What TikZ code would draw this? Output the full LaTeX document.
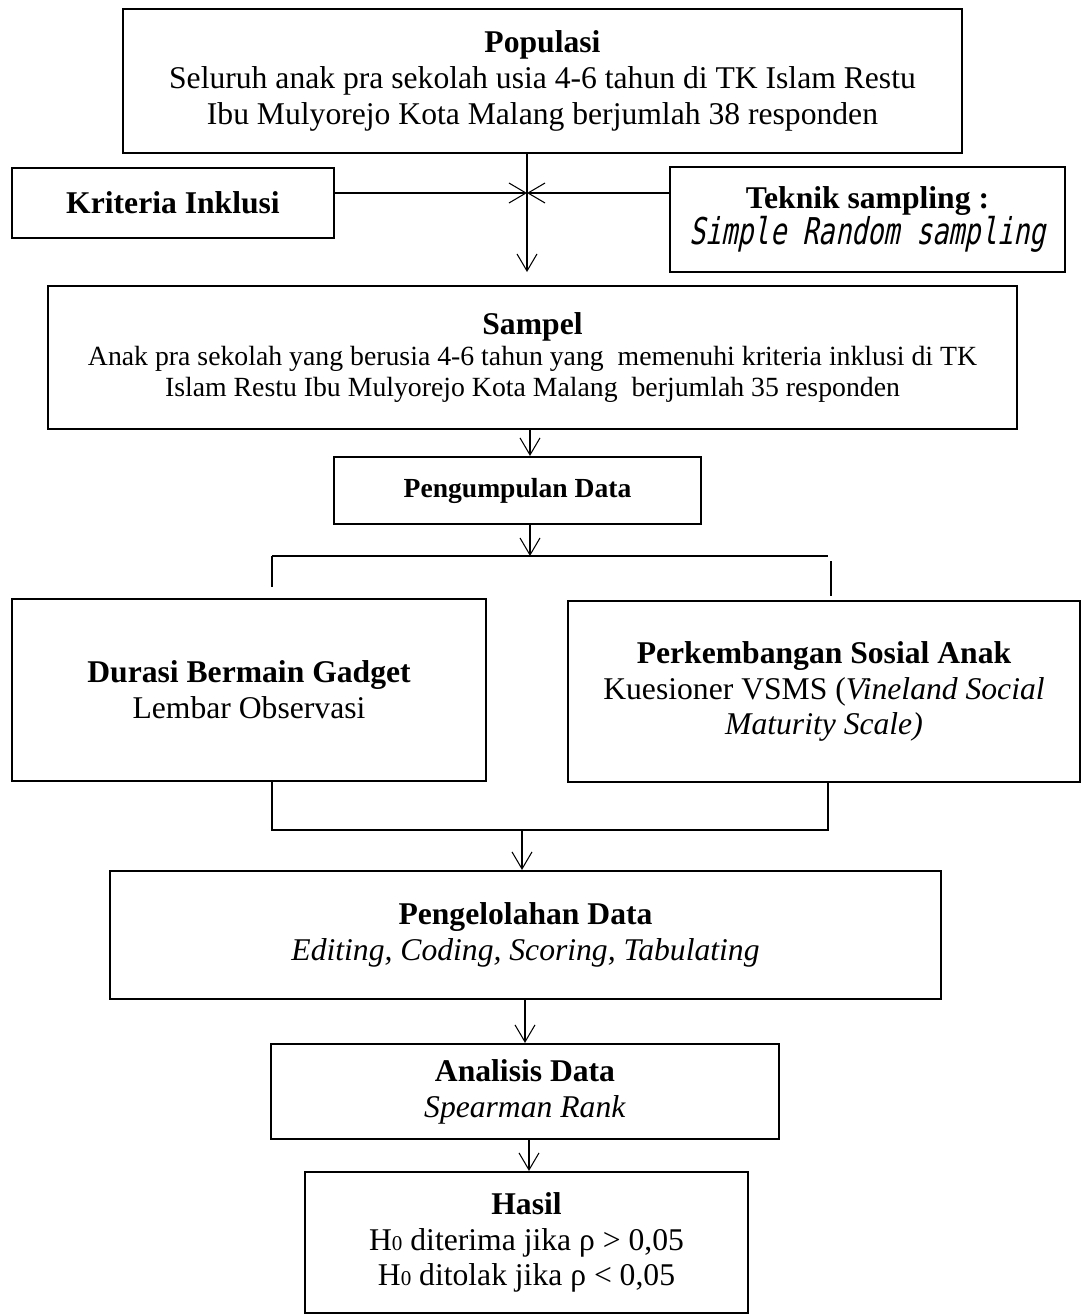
\documentclass[tikz,border=0pt]{standalone}
\usepackage{fontspec}
\setmainfont{Liberation Serif}
\newfontfamily\sampfont[FakeStretch=0.73,FakeSlant=0.2]{DejaVu Sans Mono}
\usetikzlibrary{arrows.meta,positioning}

\begin{document}
\begin{tikzpicture}[
    box/.style={draw, line width=1.2pt, align=center, inner sep=2pt, font=\fontsize{18}{20.4}\selectfont},
    link/.style={line width=0.6pt},
    >={Straight Barb[length=3.4mm,width=4mm]}
  ]
  \useasboundingbox (0,0) rectangle (21.68,-26.32);

  % Populasi
  \node[box, minimum width=16.78cm, minimum height=2.88cm] (pop) at (10.85,-1.62)
    {\textbf{Populasi}\\ Seluruh anak pra sekolah usia 4-6 tahun di TK Islam Restu\\ Ibu Mulyorejo Kota Malang berjumlah 38 responden};

  % Kriteria dan teknik sampling
  \node[box, minimum width=6.44cm, minimum height=1.40cm] (krit) at (3.46,-4.06) {\textbf{Kriteria Inklusi}};
  \node[box, minimum width=7.90cm, minimum height=2.10cm] (tek) at (17.35,-4.39)
    {\textbf{Teknik sampling :}\\ {\fontsize{21}{24}\sampfont Simple Random sampling}};

  \coordinate (join) at (10.54,-3.86);
  \coordinate (jend) at (10.54,-5.44);
  \draw[link, ->] (pop.south -| join) -- (jend);
  \draw[link, ->] (krit.east |- join) -- (join);
  \draw[link, ->] (tek.west |- join) -- (join);

  % Sampel
  \node[box, minimum width=19.38cm, minimum height=2.86cm, font=\fontsize{15.8}{17.6}\selectfont] (sampel) at (10.65,-7.15)
    {{\fontsize{18}{20.4}\selectfont\textbf{Sampel}}\\ Anak pra sekolah yang berusia 4-6 tahun yang \ memenuhi kriteria inklusi di TK\\ Islam Restu Ibu Mulyorejo Kota Malang \ berjumlah 35 responden};

  % Pengumpulan data
  \node[box, minimum width=7.34cm, minimum height=1.34cm, font=\fontsize{15.7}{18}\selectfont] (kumpul) at (10.35,-9.81)
    {\textbf{Pengumpulan Data}};
  \draw[link, ->] ([xshift=2.5mm]kumpul.north |- sampel.south) -- ([xshift=2.5mm]kumpul.north);

  \coordinate (splitL) at (5.44,-11.12);
  \coordinate (splitR) at (16.56,-11.12);
  \draw[link, ->] ([xshift=2.5mm]kumpul.south) -- ([xshift=2.5mm]kumpul.south |- splitL);
  \draw[link] (splitL) -- (splitR);
  \draw[link] (splitL) -- ++(0,-0.62);
  \draw[link] ([shift={(0.06,-0.1)}]splitR) -- ++(0,-0.7);

  % Variabel
  \node[box, minimum width=9.48cm, minimum height=3.64cm] (durasi) at (4.98,-13.80)
    {\textbf{Durasi Bermain Gadget}\\ Lembar Observasi};
  \node[box, minimum width=10.24cm, minimum height=3.62cm] (sosial) at (16.48,-13.83)
    {\textbf{Perkembangan Sosial Anak}\\ Kuesioner VSMS (\textit{Vineland Social}\\ \textit{Maturity Scale)}};

  \coordinate (merge) at (10.44,-16.6);
  \draw[link] (splitL |- durasi.south) |- (merge -| splitR) -- (splitR |- sosial.south);

  % Pengelolahan data
  \node[box, minimum width=16.62cm, minimum height=2.56cm] (olah) at (10.51,-18.70)
    {\textbf{Pengelolahan Data}\\ \textit{Editing, Coding, Scoring, Tabulating}};
  \draw[link, ->] (merge) -- (merge |- olah.north);

  % Analisis
  \node[box, minimum width=10.16cm, minimum height=1.90cm] (analisis) at (10.50,-21.83)
    {\textbf{Analisis Data}\\ \textit{Spearman Rank}};
  \draw[link, ->] (olah.south -| analisis) -- (analisis.north);

  % Hasil
  \node[box, minimum width=8.86cm, minimum height=2.82cm] (hasil) at (10.53,-24.85)
    {\textbf{Hasil}\\ H{\fontsize{12}{12}\selectfont 0} diterima jika ρ > 0,05\\ H{\fontsize{12}{12}\selectfont 0} ditolak jika ρ < 0,05};
  \draw[link, ->] ([xshift=0.8mm]analisis.south) -- ([xshift=0.8mm]analisis.south |- hasil.north);
\end{tikzpicture}
\end{document}
